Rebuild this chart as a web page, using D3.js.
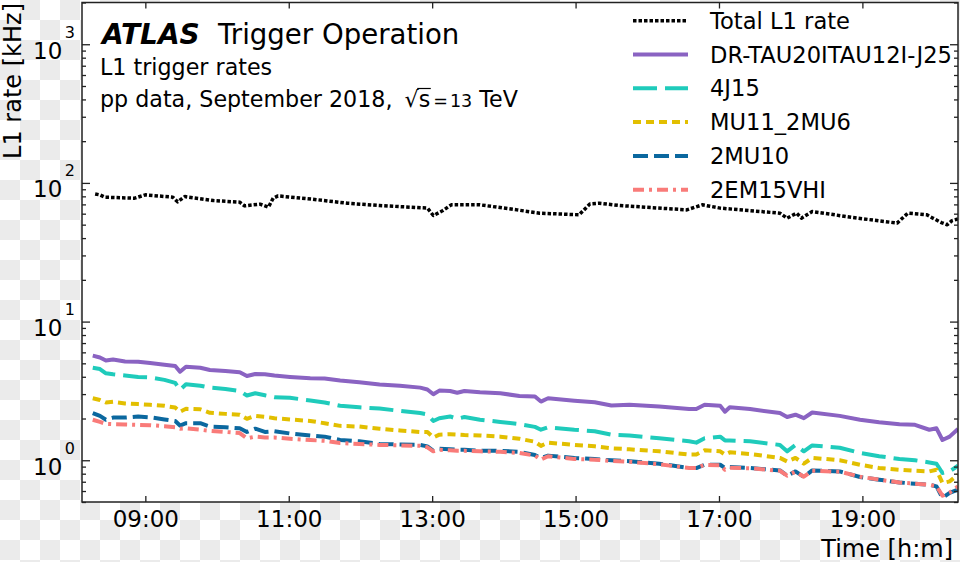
<!DOCTYPE html>
<html><head><meta charset="utf-8">
<script src="https://cdn.jsdelivr.net/npm/d3@7"></script>
<style>
body{margin:0;background:#fff}
svg{display:block}
text{font-family:"DejaVu Sans",sans-serif;fill:#000}
</style>
</head><body>
<svg id="c" width="960" height="562"></svg>
<script>
// ---------------- data ----------------
const times = ["08:16","08:22","08:27","08:33","08:43","08:54","09:04","09:16","09:25","09:29",
"09:34","09:46","09:54","10:07","10:19","10:25","10:32","10:40","10:48","11:01",
"11:18","11:30","11:43","11:59","12:16","12:33","12:50","12:56","13:01","13:06",
"13:15","13:21","13:27","13:40","13:57","14:13","14:26","14:31","14:37","14:59",
"15:16","15:30","15:45","16:10","16:35","16:41","16:48","17:01","17:05","17:09",
"17:26","17:51","17:57","18:04","18:11","18:18","18:41","18:58","19:14","19:31",
"19:44","19:56","20:02","20:07","20:13","20:20"];

const drTau = [5.68,5.51,5.24,5.33,5.16,5.14,5.03,4.89,4.79,4.35,
4.73,4.65,4.48,4.40,4.31,4.05,4.19,4.17,4.08,3.99,
3.90,3.89,3.76,3.65,3.52,3.44,3.34,3.24,2.99,3.18,
3.16,3.07,3.16,3.09,3.04,2.91,2.88,2.65,2.80,2.69,
2.62,2.48,2.51,2.44,2.34,2.34,2.51,2.47,2.24,2.41,
2.34,2.19,2.05,2.13,2.01,2.21,2.09,1.96,1.88,1.82,
1.80,1.66,1.70,1.40,1.48,1.68];

const j4J15 = [4.65,4.55,4.24,4.17,4.09,3.99,3.96,3.80,3.61,3.22,
3.53,3.45,3.34,3.27,3.16,2.93,3.04,2.94,2.85,2.82,
2.70,2.61,2.47,2.41,2.36,2.27,2.19,2.14,1.92,2.01,
2.07,1.99,2.05,1.96,1.89,1.82,1.74,1.66,1.73,1.66,
1.62,1.53,1.51,1.44,1.37,1.34,1.44,1.48,1.39,1.39,
1.37,1.29,1.16,1.29,1.16,1.28,1.23,1.13,1.07,1.02,
1.00,0.964,0.944,0.809,0.831,0.913];

const mu11_2mu6 = [2.80,2.72,2.61,2.64,2.57,2.54,2.51,2.47,2.40,2.24,
2.35,2.33,2.20,2.16,2.13,1.99,2.09,2.06,2.01,1.97,
1.92,1.85,1.77,1.75,1.69,1.64,1.60,1.60,1.46,1.53,
1.54,1.53,1.52,1.51,1.48,1.43,1.36,1.27,1.34,1.29,
1.26,1.22,1.20,1.16,1.10,1.10,1.18,1.16,1.10,1.14,
1.11,1.04,0.980,1.04,0.944,1.04,1.00,0.928,0.879,0.854,
0.840,0.831,0.854,0.685,0.704,0.786];

const mu2_10 = [2.19,2.09,1.96,2.03,2.03,2.07,2.04,1.97,1.92,1.78,
1.85,1.85,1.75,1.73,1.70,1.60,1.69,1.60,1.62,1.56,
1.51,1.48,1.40,1.37,1.31,1.30,1.29,1.26,1.17,1.21,
1.20,1.19,1.19,1.17,1.17,1.15,1.09,1.04,1.08,1.04,
1.02,1.00,0.984,0.944,0.879,0.879,0.928,0.928,0.879,0.894,
0.879,0.845,0.774,0.831,0.757,0.845,0.831,0.757,0.724,0.692,
0.677,0.666,0.648,0.535,0.581,0.614];

const em2_15vhi = [1.96,1.89,1.83,1.82,1.81,1.80,1.79,1.76,1.73,1.69,
1.70,1.66,1.63,1.60,1.57,1.44,1.48,1.46,1.46,1.43,
1.40,1.38,1.33,1.31,1.29,1.28,1.27,1.24,1.16,1.19,
1.18,1.17,1.17,1.16,1.15,1.13,1.08,1.01,1.07,1.02,
1.01,0.99,0.975,0.936,0.879,0.879,0.928,0.920,0.854,0.883,
0.876,0.840,0.774,0.827,0.761,0.840,0.827,0.761,0.724,0.692,
0.677,0.666,0.650,0.555,0.584,0.648];

const totalTimes = ["08:18","08:22","08:26","08:51","09:00","09:23","09:27","09:33","09:57","10:19",
"10:23","10:36","10:43","10:47","10:51","11:20","11:49","12:16","12:56","13:01",
"13:09","13:16","13:40","14:11","14:30","15:03","15:12","15:20","15:37","16:33",
"16:46","17:01","17:51","17:57","18:05","18:09","18:18","18:52","19:29","19:38",
"19:54","19:59","20:06","20:11","20:15","20:20"];
const totalL1 = [83.3,82,78.9,77.6,82,78.9,73,79.7,74.6,72.6,
68.3,70.3,66.9,77.6,80.6,76.3,71.4,68.7,65.8,58.2,
63.2,69.5,69.5,63.9,60.5,58.9,70.6,71.4,68.7,63.9,
69.5,65.8,60.5,55.7,60.5,55.7,62.2,56.3,51.3,60.5,
58.9,55.7,51.8,49.9,53.5,55];

const seriesNames = ["Total L1 rate","DR-TAU20ITAU12I-J25","4J15","MU11_2MU6","2MU10","2EM15VHI"];
const xTickLabels = ["09:00","11:00","13:00","15:00","17:00","19:00"];
const yMajorTicks = [1,10,100,1000];
const yTickExponents = ["0","1","2","3"];
const xDomainLabels = ["08:07","20:20"];
const yDomain = [0.5,2000];

// ---------------- styles ----------------
const colors = ["#000000","#8a63c2","#1fcbbb","#e2bf00","#0b689f","#f97b79"];
const dashes = ["3.5,2","none","24,8","8,5","15,6","11,5,3,5"];
const widths = [3.5,4,4,4,4,4];

// ---------------- layout ----------------
const svg = d3.select("#c");
const L=82, R=958, T=2.5, B=502;
const parseT = d3.timeParse("%H:%M");

// checkerboard background (transparent image look)
const defs = svg.append("defs");
const pat = defs.append("pattern").attr("id","chk").attr("patternUnits","userSpaceOnUse")
  .attr("width",40).attr("height",40);
pat.append("rect").attr("width",40).attr("height",40).attr("fill","#ffffff");
pat.append("rect").attr("x",20).attr("y",0).attr("width",20).attr("height",20).attr("fill","#ebebeb");
pat.append("rect").attr("x",0).attr("y",20).attr("width",20).attr("height",20).attr("fill","#ebebeb");
svg.append("rect").attr("width",960).attr("height",562).attr("fill","url(#chk)");
svg.append("rect").attr("x",L).attr("y",T).attr("width",R-L).attr("height",B-T).attr("fill","#fff");

defs.append("clipPath").attr("id","clip").append("rect")
  .attr("x",L).attr("y",T).attr("width",R-L).attr("height",B-T);

const x = d3.scaleTime().domain(xDomainLabels.map(parseT)).range([L,R]);
const y = d3.scaleLog().domain(yDomain).range([B,T]);

const line = d3.line().x(d=>x(d[0])).y(d=>y(d[1]));

const series = [
  totalTimes.map((t,i)=>[parseT(t), totalL1[i]]),
  times.map((t,i)=>[parseT(t), drTau[i]]),
  times.map((t,i)=>[parseT(t), j4J15[i]]),
  times.map((t,i)=>[parseT(t), mu11_2mu6[i]]),
  times.map((t,i)=>[parseT(t), mu2_10[i]]),
  times.map((t,i)=>[parseT(t), em2_15vhi[i]])
];

const gl = svg.append("g").attr("clip-path","url(#clip)");
series.forEach((s,i)=>{
  gl.append("path").attr("d", line(s)).attr("fill","none")
    .attr("stroke", colors[i]).attr("stroke-width", widths[i])
    .attr("stroke-dasharray", dashes[i]).attr("stroke-linejoin","round");
});

// ---------------- axes ----------------
const axisCol = "#222";
function styleAxis(g){
  g.select(".domain").remove();
  g.selectAll(".tick line").attr("stroke",axisCol).attr("stroke-width",1.3);
}
const xt = xTickLabels.map(parseT);
svg.append("g").attr("transform",`translate(0,${B})`)
  .call(d3.axisBottom(x).tickValues(xt).tickFormat(d3.timeFormat("%H:%M"))
        .tickSizeInner(-6).tickSizeOuter(0).tickPadding(9))
  .call(styleAxis)
  .call(g=>g.selectAll("text").attr("font-size",23).attr("font-family","DejaVu Sans").attr("fill","#000"));
svg.append("g").attr("transform",`translate(0,${T})`)
  .call(d3.axisTop(x).tickValues(xt).tickFormat("").tickSizeInner(-6).tickSizeOuter(0))
  .call(styleAxis);

const yMinor = [];
[0.1,1,10,100,1000].forEach(dec=>{ for(let k=2;k<=9;k++){ const v=dec*k; if(v>=yDomain[0]&&v<=yDomain[1]) yMinor.push(v);} });

[[d3.axisLeft, L],[d3.axisRight, R]].forEach(([ax,pos])=>{
  svg.append("g").attr("transform",`translate(${pos},0)`)
    .call(ax(y).tickValues(yMajorTicks).tickFormat("").tickSizeInner(-8).tickSizeOuter(0))
    .call(styleAxis);
  svg.append("g").attr("transform",`translate(${pos},0)`)
    .call(ax(y).tickValues(yMinor).tickFormat("").tickSizeInner(-4).tickSizeOuter(0))
    .call(styleAxis);
});

// y tick labels 10^n
const yl = svg.append("g");
yMajorTicks.forEach((v,i)=>{
  const t = yl.append("text").attr("x",L-7).attr("y",y(v)+14.5).attr("text-anchor","end");
  t.append("tspan").attr("font-size",23).text("10");
  t.append("tspan").attr("font-size",16).attr("dx",2.5).attr("dy",-21).text(yTickExponents[i]);
});

// spines
svg.append("rect").attr("x",L).attr("y",T).attr("width",R-L).attr("height",B-T)
  .attr("fill","none").attr("stroke",axisCol).attr("stroke-width",1.5);

// axis labels
svg.append("text").attr("x",953).attr("y",557).attr("text-anchor","end")
  .attr("font-size",24).text("Time [h:m]");
svg.append("text").attr("transform","translate(21,3) rotate(-90)").attr("text-anchor","end")
  .attr("font-size",24).text("L1 rate [kHz]");

// ---------------- annotations ----------------
svg.append("text").attr("x",102).attr("y",43.5).attr("font-size",28)
  .attr("font-weight","bold").attr("font-style","italic").text("ATLAS");
svg.append("text").attr("x",218).attr("y",43.5).attr("font-size",27.6).text("Trigger Operation");
svg.append("text").attr("x",100).attr("y",74.5).attr("font-size",22.2).text("L1 trigger rates");

const t3 = svg.append("text").attr("x",100).attr("y",106.5).attr("font-size",22.2);
const pre = "pp data, September 2018, ";
t3.append("tspan").text(pre);
t3.append("tspan").attr("dx",5).text("\u221A");
t3.append("tspan").text("s");
t3.append("tspan").attr("font-size",17.5).attr("dx",3).text("=");
t3.append("tspan").attr("font-size",17.5).attr("dx",2).text("13");
t3.append("tspan").text(" TeV");
const sExt = t3.node().getExtentOfChar(pre.length+1);
const rExt = t3.node().getExtentOfChar(pre.length);
svg.append("line").attr("x1",rExt.x+rExt.width-1.5).attr("x2",sExt.x+sExt.width+0.5)
  .attr("y1",106.5-18).attr("y2",106.5-18).attr("stroke","#000").attr("stroke-width",1.2);

// ---------------- legend ----------------
const lg = svg.append("g");
seriesNames.forEach((n,i)=>{
  const cy = 20.7 + i*33.8;
  lg.append("line").attr("x1",633).attr("x2",688).attr("y1",cy).attr("y2",cy)
    .attr("stroke",colors[i]).attr("stroke-width",widths[i]).attr("stroke-dasharray",dashes[i]);
  lg.append("text").attr("x",710).attr("y",cy+8).attr("font-size",22.6).text(n);
});
</script>
</body></html>
